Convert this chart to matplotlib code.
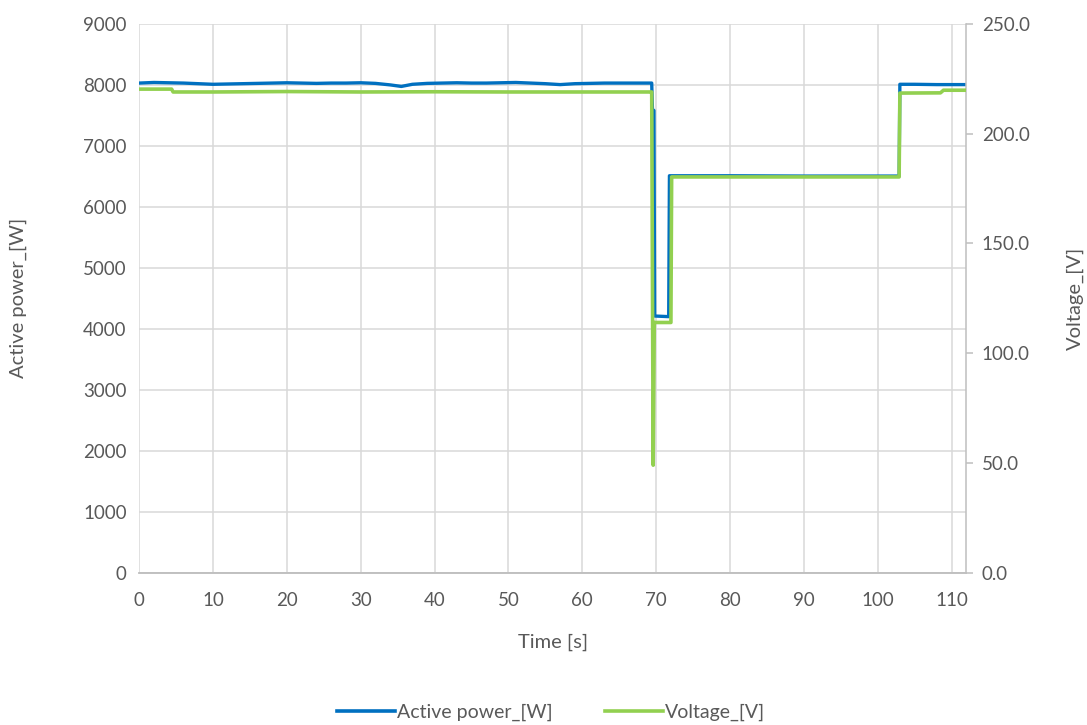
import matplotlib
matplotlib.use("Agg")
import matplotlib.pyplot as plt
from matplotlib.lines import Line2D

# ---- data ----
time_power = [0, 2, 4, 6, 8, 10, 12, 14, 16, 18, 20, 22, 24, 26, 28, 30, 32, 34,
              35.5, 37, 39, 41, 43, 45, 47, 49, 51, 53, 55, 57, 59, 61, 63, 65, 67,
              69.4, 69.5, 69.7, 69.8, 71.7, 71.8, 80, 90, 100, 102.9, 103.0, 105,
              108, 111.9]
active_power = [8030, 8040, 8035, 8030, 8020, 8010, 8015, 8020, 8025, 8030, 8035,
                8030, 8025, 8030, 8030, 8035, 8025, 8000, 7975, 8010, 8025, 8030,
                8035, 8030, 8030, 8035, 8040, 8030, 8020, 8005, 8020, 8025, 8030,
                8030, 8030, 8030, 7600, 7580, 4210, 4200, 6510, 6510, 6505, 6505,
                6505, 8010, 8010, 8005, 8005]

time_voltage = [0, 4.4, 4.6, 10, 20, 30, 40, 50, 60, 69.3, 69.4, 69.6, 69.75, 72.0,
                72.1, 80, 90, 102.9, 103.0, 108.5, 108.9, 111.9]
voltage = [220.3, 220.3, 219.0, 219.0, 219.2, 219.0, 219.1, 219.0, 219.0, 219.0,
           219.0, 49.0, 114.0, 114.0, 180.3, 180.3, 180.3, 180.3, 218.5, 218.6,
           219.8, 219.8]

x_ticks = [0, 10, 20, 30, 40, 50, 60, 70, 80, 90, 100, 110]
power_ticks = [0, 1000, 2000, 3000, 4000, 5000, 6000, 7000, 8000, 9000]
voltage_ticks = [0, 50, 100, 150, 200, 250]

BLUE = "#0070C0"
GREEN = "#92D050"
TEXT = "#595959"
GRID = "#D9D9D9"

plt.rcParams["font.family"] = ["Lato", "DejaVu Sans"]

fig = plt.figure(figsize=(10.87, 7.25), dpi=100)
ax = fig.add_axes([0.128, 0.21, 0.761, 0.757])
ax2 = ax.twinx()

ax.plot(time_power, active_power, color=BLUE, lw=2.4, zorder=3)
ax2.plot(time_voltage, voltage, color=GREEN, lw=2.6, zorder=4)

ax.set_xlim(0, 112)
ax.set_ylim(0, 9000)
ax2.set_ylim(0, 250)
ax.set_xticks(x_ticks)
ax.set_yticks(power_ticks)
ax2.set_yticks(voltage_ticks)
ax2.set_yticklabels([f"{v:.1f}" for v in voltage_ticks])

ax.grid(True, color=GRID, lw=1.1)
ax.set_axisbelow(True)

for a in (ax, ax2):
    a.spines["top"].set_visible(False)
    a.spines["left"].set_visible(False)
    a.spines["bottom"].set_color("#BFBFBF")
    a.spines["right"].set_color("#BFBFBF")
    a.spines["bottom"].set_linewidth(1.1)
    a.spines["right"].set_linewidth(1.1)

ax.spines["right"].set_visible(False)
ax.tick_params(axis="x", length=0, labelsize=13.5, colors=TEXT, pad=14)
ax.tick_params(axis="y", length=0, labelsize=13.5, colors=TEXT, pad=9)
ax2.tick_params(axis="y", length=5, width=1.1, color="#BFBFBF", labelsize=13.5,
                labelcolor=TEXT, pad=6)

ax.set_xlabel("Time [s]", fontsize=14.5, color=TEXT)
ax.set_ylabel("Active power_[W]", fontsize=14.5, color=TEXT)
ax2.set_ylabel("Voltage_[V]", fontsize=14.5, color=TEXT)
ax.xaxis.set_label_coords(0.5, -0.126)
ax.yaxis.set_label_coords(-0.146, 0.5)
ax2.yaxis.set_label_coords(1.132, 0.5)
ax.xaxis.label.set_va("center")
ax.yaxis.label.set_va("center")
ax2.yaxis.label.set_va("center")

handles = [Line2D([], [], color=BLUE, lw=2.6), Line2D([], [], color=GREEN, lw=2.6)]
fig.legend(handles, ["Active power_[W]", "Voltage_[V]"], loc="center",
           bbox_to_anchor=(0.507, 0.018), ncol=2, frameon=False, fontsize=14,
           labelcolor=TEXT, handlelength=3.0, handletextpad=0.1, columnspacing=2.7)

fig.savefig("out.png", dpi=100)
